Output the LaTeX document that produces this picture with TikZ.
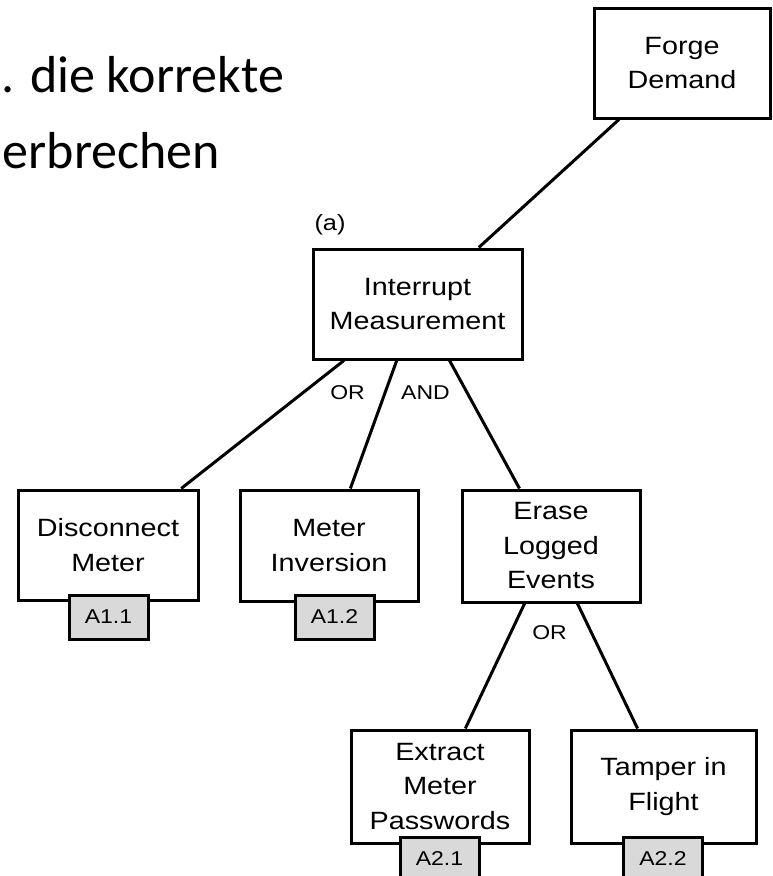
\documentclass[tikz,border=0pt]{standalone}
\usepackage{fontspec}
\setmainfont{Liberation Sans}
\newfontfamily\diagfont[FakeStretch=1.15]{Liberation Sans}
\newfontfamily\slidefont{Carlito}
\usetikzlibrary{calc}
\definecolor{tagfill}{HTML}{D9D9D9}

\begin{document}
\begin{tikzpicture}[x=1pt,y=-1pt,
  box/.style={draw, line width=3pt, inner sep=0pt, align=center,
    font=\diagfont\fontsize{25}{34.5}\selectfont},
  tag/.style={draw, line width=3pt, fill=tagfill, inner sep=0pt,
    minimum width=79pt, minimum height=44pt,
    font=\diagfont\fontsize{20}{24}\selectfont},
  gate/.style={font=\diagfont\fontsize{20}{24}\selectfont, inner sep=0pt},
  link/.style={line width=3pt},
  slide/.style={font=\slidefont\fontsize{52}{62}\selectfont, inner sep=0pt, anchor=base east},
]
\fill[white] (0,0) rectangle (772,876);
\useasboundingbox (0,0) rectangle (772,876);

% slide text (cut off at left)
\node[slide] (line1) at (284,92) {. die korrekte};
\node[slide] (line2) at (220,168) {erbrechen};

% boxes
\node[box, minimum width=176pt, minimum height=110pt] (forge) at (682,63) {Forge\\Demand};
\node[box, minimum width=209pt, minimum height=110pt] (intr) at (417.5,304) {Interrupt\\Measurement};
\node[box, minimum width=180pt, minimum height=110pt] (disc) at (108,545) {Disconnect\\Meter};
\node[box, minimum width=178pt, minimum height=111pt] (minv) at (329,545.5) {Meter\\Inversion};
\node[box, minimum width=178pt, minimum height=112pt] (erase) at (551,546) {Erase\\Logged\\Events};
\node[box, minimum width=178pt, minimum height=113pt] (extr) at (440,786.5) {Extract\\Meter\\Passwords};
\node[box, minimum width=185pt, minimum height=113pt] (tamp) at (663.5,786.5) {Tamper in\\Flight};

% tags
\node[tag] (a11) at (108.5,617) {A1.1};
\node[tag] (a12) at (334.5,617) {A1.2};
\node[tag] (a21) at (439.5,859) {A2.1};
\node[tag] (a22) at (663,859) {A2.2};

% labels
\node[gate, font=\diagfont\fontsize{22}{26}\selectfont] (lbla) at (330,225) {(a)};
\node[gate] (or1) at (347.5,393) {OR};
\node[gate] (and1) at (425.5,393) {AND};
\node[gate] (or2) at (549.5,633) {OR};

% connectors
\draw[link] ($(forge.south west)!0.148!(forge.south east)$) -- ($(intr.north west)!0.789!(intr.north east)$);
\draw[link] ($(intr.south west)!0.153!(intr.south east)$) -- ($(disc.north west)!0.9!(disc.north east)$);
\draw[link] ($(intr.south west)!0.402!(intr.south east)$) -- ($(minv.north west)!0.618!(minv.north east)$);
\draw[link] ($(intr.south west)!0.651!(intr.south east)$) -- ($(erase.north west)!0.326!(erase.north east)$);
\draw[link] ($(erase.south west)!0.354!(erase.south east)$) -- ($(extr.north west)!0.64!(extr.north east)$);
\draw[link] ($(erase.south west)!0.646!(erase.south east)$) -- ($(tamp.north west)!0.362!(tamp.north east)$);
\end{tikzpicture}
\end{document}
